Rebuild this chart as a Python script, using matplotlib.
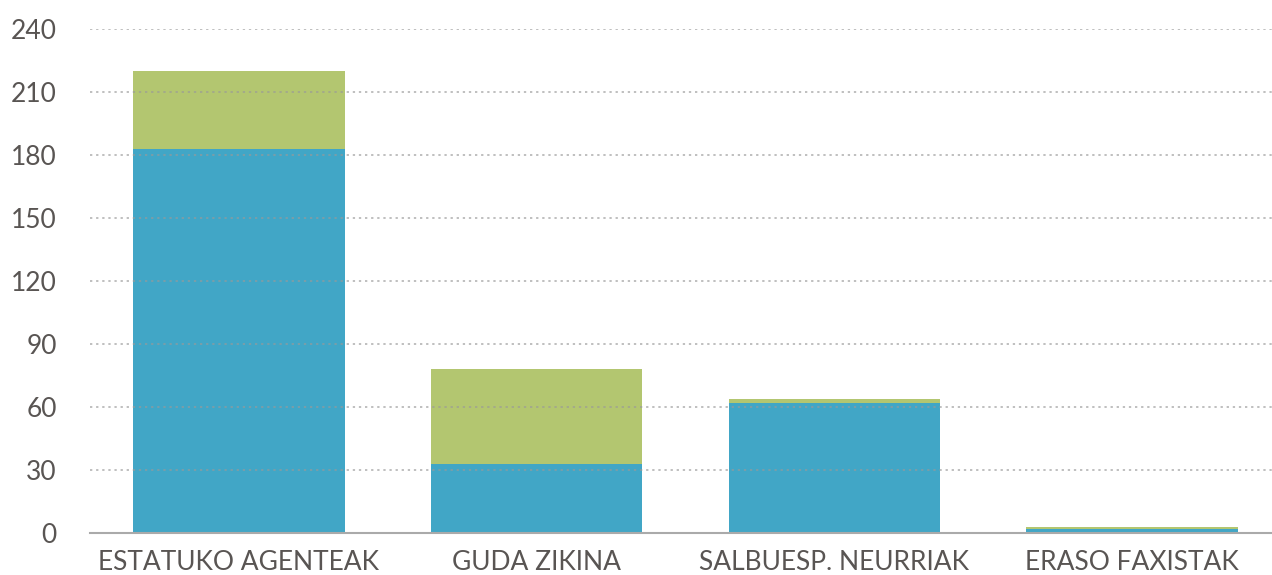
import matplotlib.pyplot as plt

# Datuak
kategoriak = ['ESTATUKO AGENTEAK', 'GUDA ZIKINA', 'SALBUESP. NEURRIAK', 'ERASO FAXISTAK']
urdina = [183, 33, 62, 2]
berdea = [37, 45, 2, 1]
y_tikak = [0, 30, 60, 90, 120, 150, 180, 210, 240]

plt.rcParams['font.family'] = ['Lato', 'DejaVu Sans']

fig = plt.figure(figsize=(12.72, 5.75), dpi=100)
ax = fig.add_axes([90 / 1272, 42 / 575, 1 - 90 / 1272, (533 - 29) / 575])

x = range(len(kategoriak))
ax.bar(x, urdina, width=0.71, color='#41a6c6', zorder=1)
ax.bar(x, berdea, width=0.71, bottom=urdina, color='#b3c670', zorder=1)

ax.set_xlim(-0.5, 3.47)
ax.set_ylim(0, 240)
ax.set_yticks(y_tikak)
ax.set_xticks(list(x))
ax.set_xticklabels(kategoriak)

ax.grid(True, axis='y', linestyle=(0, (1.5, 2.5)), color='#999999', linewidth=1.1, alpha=0.8)
ax.set_axisbelow(False)

for s in ['top', 'right', 'left']:
    ax.spines[s].set_visible(False)
ax.spines['bottom'].set_color('#aaaaaa')
ax.spines['bottom'].set_linewidth(1.5)
ax.spines['bottom'].set_zorder(3)

ax.tick_params(axis='y', length=0, pad=24, labelsize=19, labelcolor='#595553')
ax.tick_params(axis='x', length=0, pad=12, labelsize=19, labelcolor='#595553')

plt.savefig('out.png', dpi=100)
plt.close()
